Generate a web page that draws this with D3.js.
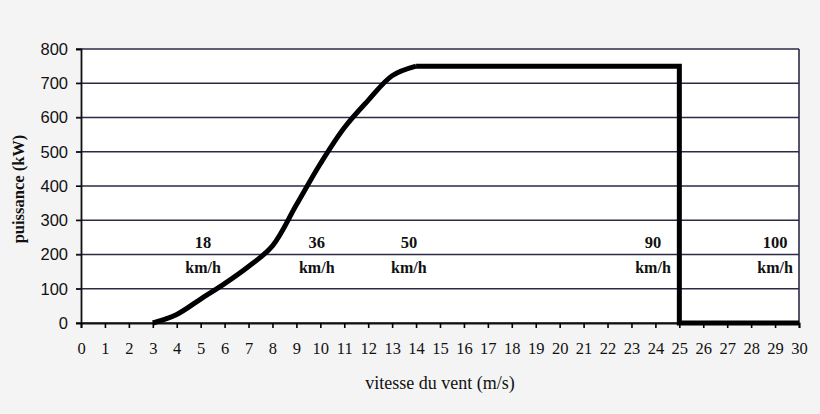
<!DOCTYPE html>
<html>
<head>
<meta charset="utf-8">
<script src="https://cdn.jsdelivr.net/npm/d3@7"></script>
<style>
  body { margin: 0; background: #f4f4f4; }
  svg { display: block; }
</style>
</head>
<body>
<div id="chart"></div>
<script>
// set the dimensions and margins of the graph
const margin = {top: 49, right: 21, bottom: 91, left: 81},
    width = 820 - margin.left - margin.right,
    height = 414 - margin.top - margin.bottom;

// power curve: wind speed (m/s) and power (kW)
const rampSpeed = [3, 4, 5, 6, 7, 8, 9, 10, 11, 12, 13, 14];
const rampPower = [0, 25, 70, 115, 165, 225, 345, 465, 570, 650, 722, 750];
const plateauSpeed = [14, 25, 25, 30];
const plateauPower = [750, 750, 0, 0];

const xTicks = d3.range(0, 31);
const yTicks = [0, 100, 200, 300, 400, 500, 600, 700, 800];

// speed annotations (km/h) and where they sit (m/s)
const kmhLabels = ["18", "36", "50", "90", "100"];
const kmhAt = [5.1, 9.85, 13.7, 23.9, 29.0];

const svg = d3.select("#chart")
    .append("svg")
        .attr("width", width + margin.left + margin.right)
        .attr("height", height + margin.top + margin.bottom)
    .append("g")
        .attr("transform", `translate(${margin.left}, ${margin.top})`);

const x = d3.scaleLinear().domain([0, 30]).range([0, width]);
const y = d3.scaleLinear().domain([0, 800]).range([height, 0]);

// plot background
svg.append("rect")
    .attr("width", width)
    .attr("height", height)
    .attr("fill", "#fff");

// horizontal grid
svg.append("g")
    .selectAll("line")
    .data(yTicks)
    .join("line")
    .attr("x1", -5)
    .attr("x2", width)
    .attr("y1", d => y(d))
    .attr("y2", d => y(d))
    .attr("stroke", "#2c2a44")
    .attr("stroke-width", 1.6);

// right border
svg.append("line")
    .attr("x1", width).attr("x2", width)
    .attr("y1", 0).attr("y2", height)
    .attr("stroke", "#2c2a44")
    .attr("stroke-width", 1.6);

// Y axis
svg.append("g")
    .call(d3.axisLeft(y).tickValues(yTicks).tickSize(5).tickPadding(8))
    .call(g => g.select(".domain").attr("stroke", "#111").attr("stroke-width", 1.8))
    .selectAll("text")
    .style("font-family", "'Liberation Sans', sans-serif")
    .style("font-size", "16.5px")
    .attr("fill", "#111");

// X axis
svg.append("g")
    .attr("transform", `translate(0, ${height})`)
    .call(d3.axisBottom(x).tickValues(xTicks).tickSize(5).tickPadding(14))
    .call(g => g.select(".domain").attr("stroke", "#111").attr("stroke-width", 1.8))
    .call(g => g.selectAll(".tick line").attr("stroke-width", 1.6))
    .selectAll("text")
    .style("font-family", "'Liberation Serif', serif")
    .style("font-size", "16.5px")
    .attr("fill", "#111");

// curve
const rampLine = d3.line()
    .x(d => x(d[0]))
    .y(d => y(d[1]))
    .curve(d3.curveCatmullRom.alpha(0.5));
const flatLine = d3.line()
    .x(d => x(d[0]))
    .y(d => y(d[1]));

svg.append("path")
    .datum(d3.zip(rampSpeed, rampPower))
    .attr("d", rampLine)
    .attr("fill", "none")
    .attr("stroke", "#000")
    .attr("stroke-width", 5)
    .attr("stroke-linejoin", "round");

svg.append("path")
    .datum(d3.zip(plateauSpeed, plateauPower))
    .attr("d", flatLine)
    .attr("fill", "none")
    .attr("stroke", "#000")
    .attr("stroke-width", 5)
    .attr("stroke-linejoin", "miter");

// km/h labels
const ann = svg.append("g")
    .selectAll("g")
    .data(d3.zip(kmhLabels, kmhAt))
    .join("g")
    .attr("transform", d => `translate(${x(d[1])}, 0)`)
    .style("font-family", "'Liberation Serif', serif")
    .style("font-weight", "bold")
    .attr("text-anchor", "middle")
    .attr("fill", "#111");
ann.append("text")
    .attr("y", y(218))
    .style("font-size", "16.5px")
    .text(d => d[0]);
ann.append("text")
    .attr("y", y(145))
    .style("font-size", "16px")
    .text("km/h");

// axis titles
svg.append("text")
    .attr("transform", `translate(${-57}, ${height / 2 + 3}) rotate(-90)`)
    .attr("text-anchor", "middle")
    .style("font-family", "'Liberation Serif', serif")
    .style("font-weight", "bold")
    .style("font-size", "16.5px")
    .attr("fill", "#111")
    .text("puissance (kW)");

svg.append("text")
    .attr("x", x(15))
    .attr("y", height + 66)
    .attr("text-anchor", "middle")
    .style("font-family", "'Liberation Serif', serif")
    .style("font-size", "18px")
    .attr("fill", "#111")
    .text("vitesse du vent (m/s)");
</script>
</body>
</html>
